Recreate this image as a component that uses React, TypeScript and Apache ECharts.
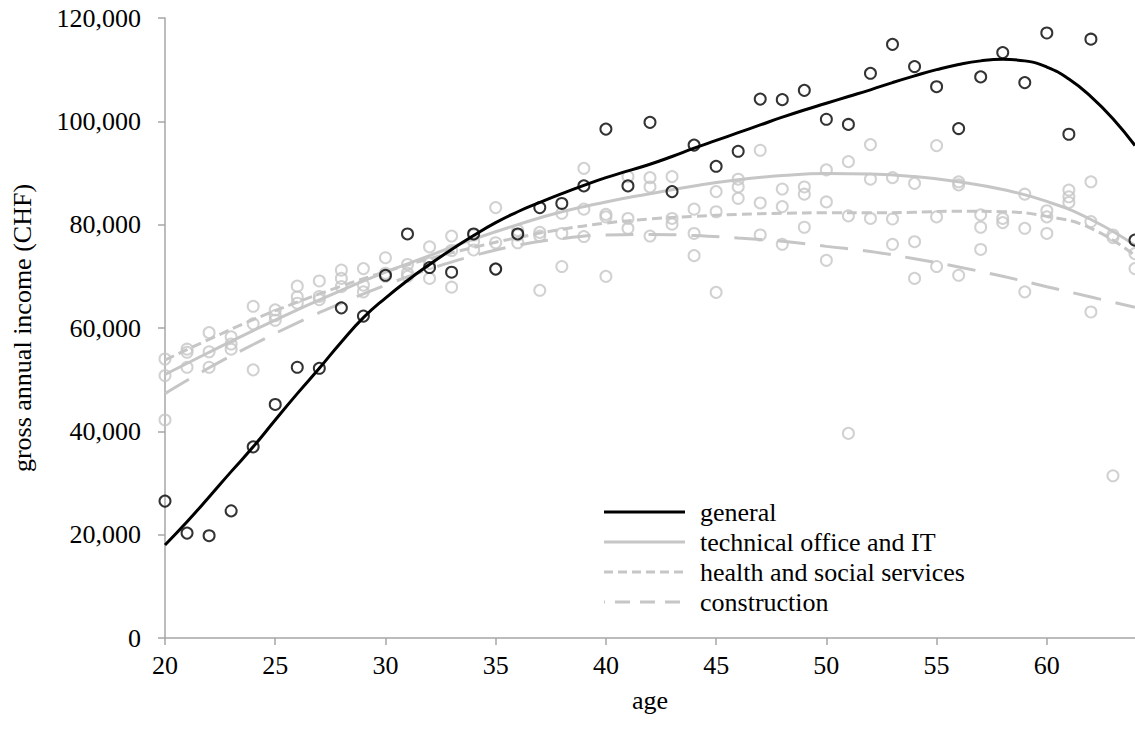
import React, { useEffect, useRef } from "react";
import * as echarts from "echarts";

// Observed mean gross income by age, [age, CHF]
const generalPoints: [number, number][] = [
  [20, 26500], [21, 20300], [22, 19800], [23, 24600], [24, 37000], [25, 45200],
  [26, 52400], [27, 52200], [28, 63900], [29, 62300], [30, 70200], [31, 78200],
  [32, 71700], [33, 70800], [34, 78200], [35, 71400], [36, 78200], [37, 83300],
  [38, 84100], [39, 87500], [40, 98500], [41, 87500], [42, 99800], [43, 86400],
  [44, 95400], [45, 91300], [46, 94200], [47, 104300], [48, 104200], [49, 106000],
  [50, 100400], [51, 99400], [52, 109300], [53, 114900], [54, 110600], [55, 106700],
  [56, 98600], [57, 108600], [58, 113300], [59, 107500], [60, 117100], [61, 97500],
  [62, 115900], [64, 77000],
];

const technicalPoints: [number, number][] = [
  [20, 50800], [21, 55300], [22, 55400], [23, 56900], [24, 64200], [25, 62400],
  [26, 68100], [27, 69100], [28, 69600], [29, 71500], [30, 73600], [31, 72300],
  [32, 72500], [33, 77800], [34, 78000], [35, 83300], [36, 78900], [37, 78500],
  [38, 82200], [39, 90900], [40, 82000], [41, 89300], [42, 89100], [43, 89300],
  [44, 83000], [45, 86400], [46, 88800], [47, 94400], [48, 86900], [49, 87300],
  [50, 90600], [51, 92200], [52, 95500], [53, 89100], [54, 88000], [55, 95300],
  [56, 88300], [57, 81900], [58, 81200], [59, 85900], [60, 82700], [61, 86700],
  [62, 88300], [63, 78000], [64, 74400],
];

const healthPoints: [number, number][] = [
  [20, 54000], [21, 55900], [22, 59100], [23, 58300], [24, 60800], [25, 63500],
  [26, 66000], [27, 66100], [28, 71200], [29, 68300], [30, 70600], [31, 70600],
  [32, 75700], [33, 75000], [34, 75100], [35, 76500], [36, 78000], [37, 77800],
  [38, 78300], [39, 83000], [40, 81500], [41, 81200], [42, 87300], [43, 81200],
  [44, 78300], [45, 82500], [46, 87300], [47, 84200], [48, 83500], [49, 85900],
  [50, 84400], [51, 81700], [52, 88800], [53, 81100], [54, 76700], [55, 81500],
  [56, 87700], [57, 79500], [58, 80400], [59, 79300], [60, 81500], [61, 85400],
  [62, 80600], [63, 77500], [64, 71500],
];

const constructionPoints: [number, number][] = [
  [20, 42200], [21, 52400], [22, 52400], [23, 55900], [24, 51900], [25, 61500],
  [26, 64800], [27, 65500], [28, 68000], [29, 67000], [30, 70000], [31, 70000],
  [32, 69600], [33, 67900], [34, 76800], [35, 71500], [36, 76500], [37, 67300],
  [38, 71900], [39, 77700], [40, 70000], [41, 79300], [42, 77800], [43, 80100],
  [44, 74000], [45, 66900], [46, 85100], [47, 78000], [48, 76200], [49, 79500],
  [50, 73100], [51, 39600], [52, 81200], [53, 76200], [54, 69600], [55, 71900],
  [56, 70200], [57, 75200], [59, 67000], [60, 78300], [61, 84300], [62, 63100],
  [63, 31400],
];

// Fitted trend curves, [age, CHF]
const generalTrend: [number, number][] = [
  [20, 18000], [21, 22500], [22, 27300], [23, 32200], [24, 37000], [25, 42200],
  [26, 47300], [27, 52200], [28, 57300], [29, 62000], [30, 65800], [31, 69200],
  [32, 72300], [33, 75200], [34, 77900], [35, 80400], [36, 82500], [37, 84300],
  [38, 86000], [39, 87600], [40, 89100], [41, 90400], [42, 91700], [43, 93200],
  [44, 94800], [45, 96300], [46, 97800], [47, 99300], [48, 100800], [49, 102200],
  [50, 103500], [51, 104800], [52, 106100], [53, 107500], [54, 108800], [55, 110000],
  [56, 111000], [57, 111700], [58, 112000], [59, 111700], [60, 110500], [61, 108200],
  [62, 104800], [63, 100500], [64, 95300],
];

const technicalTrend: [number, number][] = [
  [20, 51000], [22, 55300], [24, 59500], [26, 63500], [28, 67300], [30, 70800],
  [32, 74000], [34, 77200], [36, 80000], [38, 82500], [40, 84400], [42, 86000],
  [44, 87500], [46, 88700], [48, 89500], [50, 89900], [52, 89800], [54, 89300],
  [56, 88300], [58, 86800], [60, 84500], [62, 81000], [64, 76000],
];

const healthTrend: [number, number][] = [
  [20, 53800], [22, 57800], [24, 61600], [26, 65000], [28, 68100], [30, 70900],
  [32, 73400], [34, 75600], [36, 77500], [38, 79100], [40, 80300], [42, 81100],
  [44, 81600], [46, 82000], [48, 82200], [50, 82300], [52, 82300], [54, 82400],
  [56, 82600], [58, 82500], [60, 81600], [62, 79300], [64, 74000],
];

const constructionTrend: [number, number][] = [
  [20, 47300], [22, 52300], [24, 56800], [26, 61000], [28, 64800], [30, 68300],
  [32, 71400], [34, 74000], [36, 76000], [38, 77300], [40, 78000], [42, 78100],
  [44, 77900], [46, 77400], [48, 76800], [50, 75800], [52, 74800], [54, 73400],
  [56, 71800], [58, 70000], [60, 68000], [62, 66000], [64, 64000],
];

const seriesNames = [
  "general",
  "technical office and IT",
  "health and social services",
  "construction",
];

const BLACK = "#000000";
const GRAY = "#c6c6c6";
const AXIS = "#a6a6a6";
const FONT = "'Liberation Serif', 'Times New Roman', serif";

// line colour and dash pattern per trend
const trendStyles: { color: string; dash: number[] | "solid" }[] = [
  { color: BLACK, dash: "solid" },
  { color: GRAY, dash: "solid" },
  { color: GRAY, dash: [10, 5] },
  { color: GRAY, dash: [28, 15] },
];

// key for the trend lines, drawn as plain graphics
function legendGraphics() {
  const keyDash: (number[] | null)[] = [null, null, [9, 5], [15, 10]];
  const keyOffset = [0, 0, 0, 14];
  return seriesNames.flatMap((name, i) => {
    const y = 512 + i * 30;
    return [
      {
        type: "line",
        shape: { x1: 604, y1: y, x2: 685, y2: y },
        style: {
          stroke: trendStyles[i].color,
          lineWidth: 3,
          lineDash: keyDash[i] || undefined,
          lineDashOffset: keyOffset[i],
        },
        silent: true,
      },
      {
        type: "text",
        x: 700,
        y,
        style: {
          text: name,
          fill: "#000",
          font: `26px ${FONT}`,
          verticalAlign: "middle",
          align: "left",
        },
        silent: true,
      },
    ];
  });
}

export default function App() {
  const ref = useRef<HTMLDivElement>(null);

  useEffect(() => {
    if (!ref.current) return;
    const chart = echarts.init(ref.current, undefined, { renderer: "svg" });

    const scatter = (name: string, data: [number, number][], color: string, z: number) => ({
      name,
      type: "scatter",
      data,
      symbol: "circle",
      symbolSize: 11,
      z,
      itemStyle: { color: "rgba(0,0,0,0)", borderColor: color, borderWidth: 2 },
      emphasis: { disabled: true },
    });

    const trend = (i: number, data: [number, number][], z: number) => ({
      name: seriesNames[i],
      type: "line",
      data,
      smooth: 0.5,
      symbol: "none",
      z,
      lineStyle: { color: trendStyles[i].color, width: 3, type: trendStyles[i].dash, cap: "butt" },
      itemStyle: { color: trendStyles[i].color },
      emphasis: { disabled: true },
    });

    chart.setOption({
      animation: false,
      backgroundColor: "#ffffff",
      textStyle: { fontFamily: FONT },
      grid: { left: 165, top: 18, width: 973.7, height: 620, containLabel: false },
      graphic: legendGraphics(),
      xAxis: {
        type: "value",
        min: 20,
        max: 64,
        interval: 5,
        name: "age",
        nameLocation: "middle",
        nameGap: 49,
        nameTextStyle: { fontFamily: FONT, fontSize: 26, color: "#000" },
        axisLine: { show: true, lineStyle: { color: AXIS, width: 1.5 } },
        axisTick: { show: true, length: 7, lineStyle: { color: AXIS, width: 1.5 } },
        axisLabel: {
          fontFamily: FONT,
          fontSize: 26,
          color: "#000",
          margin: 14,
          showMaxLabel: false,
          formatter: (v: number) => (v % 5 === 0 ? String(v) : ""),
        },
        splitLine: { show: false },
      },
      yAxis: {
        type: "value",
        min: 0,
        max: 120000,
        interval: 20000,
        name: "gross annual income (CHF)",
        nameLocation: "middle",
        nameRotate: 90,
        nameGap: 130,
        nameTextStyle: { fontFamily: FONT, fontSize: 26, color: "#000" },
        axisLine: { show: true, lineStyle: { color: AXIS, width: 1.5 } },
        axisTick: { show: true, length: 7, lineStyle: { color: AXIS, width: 1.5 } },
        axisLabel: {
          fontFamily: FONT,
          fontSize: 26,
          color: "#000",
          margin: 24,
          formatter: (v: number) => v.toLocaleString("en-US"),
        },
        splitLine: { show: false },
      },
      series: [
        scatter("general points", generalPoints, BLACK, 5),
        scatter("technical points", technicalPoints, GRAY, 3),
        scatter("health points", healthPoints, GRAY, 3),
        scatter("construction points", constructionPoints, GRAY, 3),
        trend(0, generalTrend, 4),
        trend(1, technicalTrend, 2),
        trend(2, healthTrend, 2),
        trend(3, constructionTrend, 2),
      ],
    });

    return () => chart.dispose();
  }, []);

  return (
    <div
      ref={ref}
      style={{ position: "fixed", left: 0, top: 0, width: 1135, height: 747, background: "#fff" }}
    />
  );
}
